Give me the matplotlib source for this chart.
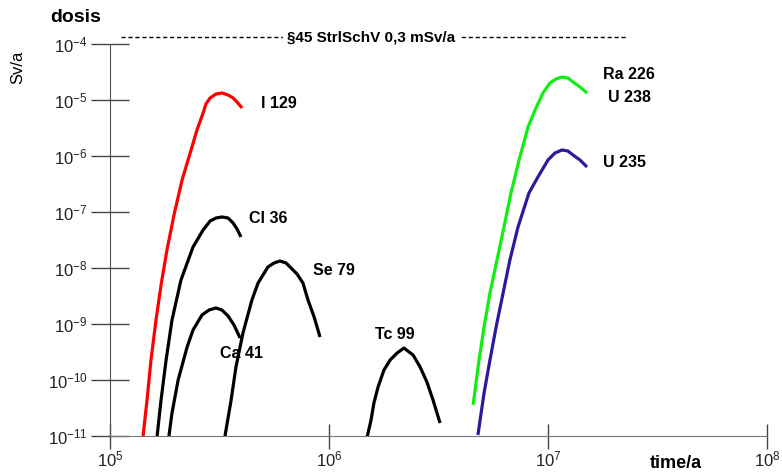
import numpy as np
import matplotlib
matplotlib.use('Agg')
import matplotlib.pyplot as plt

plt.rcParams['font.family'] = ['Liberation Sans', 'DejaVu Sans']

# values, as log10(time / a) and log10(dose / Sv/a)
i129_lt = [5.151, 5.169, 5.187, 5.210, 5.233, 5.260, 5.292, 5.329, 5.370, 5.397, 5.425,
           5.438, 5.457, 5.484, 5.511, 5.539, 5.562, 5.584, 5.603]
i129_ld = [-11.0, -10.357, -9.643, -8.929, -8.304, -7.679, -7.054, -6.429, -5.893, -5.536, -5.232,
           -5.071, -4.964, -4.893, -4.875, -4.911, -4.964, -5.054, -5.143]

cl36_lt = [5.215, 5.233, 5.256, 5.283, 5.324, 5.379, 5.425, 5.457, 5.484, 5.511,
           5.539, 5.562, 5.580, 5.598]
cl36_ld = [-11.0, -10.357, -9.643, -8.929, -8.214, -7.625, -7.321, -7.161, -7.107, -7.089,
           -7.107, -7.196, -7.304, -7.446]

ca41_lt = [5.269, 5.283, 5.311, 5.352, 5.379, 5.420, 5.452, 5.484, 5.511, 5.539, 5.566, 5.594]
ca41_ld = [-11.0, -10.589, -10.0, -9.411, -9.107, -8.839, -8.75, -8.714, -8.75, -8.857, -9.018, -9.25]

se79_lt = [5.525, 5.553, 5.575, 5.607, 5.648, 5.676, 5.721, 5.749, 5.776, 5.804, 5.822,
           5.854, 5.881, 5.904, 5.932, 5.959]
se79_ld = [-11.0, -10.357, -9.768, -9.161, -8.571, -8.268, -7.982, -7.911, -7.875, -7.911, -7.982,
           -8.107, -8.268, -8.571, -8.875, -9.232]

tc99_lt = [6.174, 6.192, 6.205, 6.224, 6.251, 6.279, 6.311, 6.342, 6.384, 6.416, 6.447, 6.475, 6.507]
tc99_ld = [-11.018, -10.714, -10.411, -10.125, -9.821, -9.643, -9.518, -9.429, -9.554, -9.768,
           -10.036, -10.357, -10.768]

ra226_lt = [6.658, 6.685, 6.708, 6.735, 6.767, 6.799, 6.831, 6.868, 6.909, 6.941, 6.977,
            7.009, 7.037, 7.064, 7.091, 7.114, 7.146, 7.178]
ra226_ld = [-10.446, -9.643, -9.054, -8.446, -7.857, -7.268, -6.661, -6.071, -5.482, -5.179, -4.875,
            -4.696, -4.625, -4.589, -4.607, -4.679, -4.768, -4.875]

u235_lt = [6.680, 6.708, 6.735, 6.763, 6.795, 6.826, 6.863, 6.913, 6.954, 7.0, 7.032,
           7.064, 7.091, 7.114, 7.146, 7.178]
u235_ld = [-10.982, -10.232, -9.643, -9.054, -8.446, -7.857, -7.268, -6.661, -6.375, -6.071, -5.946,
           -5.893, -5.911, -5.982, -6.071, -6.196]

labels = ['I 129', 'Cl 36', 'Se 79', 'Ca 41', 'Tc 99', 'Ra 226', 'U 238', 'U 235']

fig = plt.figure(figsize=(7.82, 4.73), dpi=100)
ax = fig.add_axes([0.1407, 0.0782, 0.8401, 0.8288])
ax.set_xscale('log')
ax.set_yscale('log')
ax.set_xlim(1e5, 1e8)
ax.set_ylim(1e-11, 1e-4)

lw = 2.3
curves = [(i129_lt, i129_ld, '#ff0000'), (cl36_lt, cl36_ld, 'black'),
          (ca41_lt, ca41_ld, 'black'), (se79_lt, se79_ld, 'black'),
          (tc99_lt, tc99_ld, 'black'), (ra226_lt, ra226_ld, '#11ee11'),
          (u235_lt, u235_ld, '#2b1b9c')]
for lt, ld, c in curves:
    ax.plot(10 ** np.array(lt), 10 ** np.array(ld), color=c, lw=lw,
            solid_joinstyle='round', solid_capstyle='butt')

for s in ['top', 'right']:
    ax.spines[s].set_visible(False)
ax.spines['left'].set_color('#555555')
ax.spines['bottom'].set_color('#777777')

ax.set_xticks([1e5, 1e6, 1e7, 1e8])
ax.set_yticks([1e-11, 1e-10, 1e-9, 1e-8, 1e-7, 1e-6, 1e-5, 1e-4])
ax.minorticks_off()
ax.tick_params(axis='y', direction='inout', length=28, width=1, color='#444444',
               labelsize=12, pad=2, labelcolor='#222222')
ax.tick_params(axis='x', direction='inout', length=18, width=1, color='#444444',
               labelsize=12, pad=1, labelcolor='#222222')

bold = dict(fontweight='bold', fontsize=11.5, va='center', ha='left')
ax.text(4.9e5, 8.8e-6, labels[0], **bold)
ax.text(4.3e5, 7.8e-8, labels[1], **bold)
ax.text(8.45e5, 9.2e-9, labels[2], **bold)
ax.text(3.18e5, 3.0e-10, labels[3], **bold)
ax.text(1.62e6, 6.4e-10, labels[4], **bold)
ax.text(1.78e7, 2.8e-5, labels[5], **bold)
ax.text(1.88e7, 1.13e-5, labels[6], **bold)
ax.text(1.78e7, 7.5e-7, labels[7], **bold)

# limit line
ax.plot([1.12e5, 2.3e7], [1.33e-4, 1.33e-4], color='black', lw=1,
        ls=(0, (3, 2)), clip_on=False)
ax.text(1.55e6, 1.33e-4, '§45 StrlSchV 0,3 mSv/a', fontweight='bold', fontsize=11,
        ha='center', va='center', clip_on=False,
        bbox=dict(facecolor='white', edgecolor='none', pad=3))

fig.text(50 / 782, 1 - 17 / 473, 'dosis', fontweight='bold', fontsize=14,
         ha='left', va='center')
fig.text(18 / 782, 1 - 67 / 473, 'Sv/a', fontsize=12, rotation=90,
         ha='center', va='center')
fig.text(650 / 782, 1 - 463 / 473, 'time/a', fontweight='bold', fontsize=13,
         ha='left', va='center')

fig.savefig('out.png', dpi=100)
